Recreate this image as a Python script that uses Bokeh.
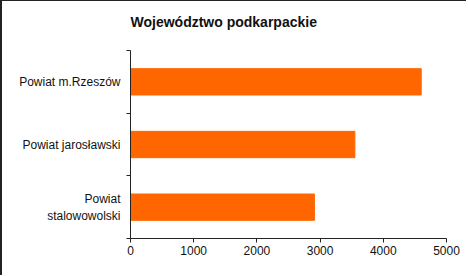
from bokeh.plotting import figure
from bokeh.models import FixedTicker, Range1d, Title
from bokeh.embed import file_html
from bokeh.resources import INLINE

title_text = "Województwo podkarpackie"
categories = ["Powiat m.Rzeszów", "Powiat jarosławski", "Powiat\nstalowowolski"]
values = [4600, 3550, 2910]
x_ticks = [0, 1000, 2000, 3000, 4000, 5000]

n = len(categories)
# top-to-bottom order: positions n-0.5, ..., 0.5
ypos = [n - i - 0.5 for i in range(n)]

p = figure(width=466, height=275, output_backend="svg", toolbar_location=None,
           x_range=Range1d(0, 5000), y_range=Range1d(0, n),
           min_border_left=128, min_border_right=22, min_border_top=49,
           min_border_bottom=38,
           styles={"border-left": "2px solid #222", "border-top": "1px solid #222"})

p.hbar(y=ypos, right=values, left=0, height=0.42, color="#FF6600")

spacer = Title(text=" ", text_font_size="1px", standoff=13)
main_title = Title(text=title_text, text_font="Liberation Sans",
                   text_font_size="14px", text_font_style="bold",
                   text_color="#111111", align="left", offset=0, standoff=10)
p.add_layout(spacer, "above")
p.add_layout(main_title, "above")

p.outline_line_color = None
p.xgrid.visible = False
p.ygrid.visible = False
p.background_fill_color = "white"
p.border_fill_color = "white"

xa = p.xaxis[0]
xa.ticker = FixedTicker(ticks=x_ticks)
xa.major_label_overrides = {t: str(t) for t in x_ticks}
xa.major_tick_out = 4
xa.major_tick_in = 0
xa.minor_tick_line_color = None
xa.axis_line_color = "#222222"
xa.major_tick_line_color = "#222222"
xa.major_label_text_font = "Liberation Sans"
xa.major_label_text_font_size = "12px"
xa.major_label_text_color = "#111111"
xa.major_label_standoff = 3

ya = p.yaxis[0]
ya.ticker = FixedTicker(ticks=ypos, minor_ticks=list(range(0, n + 1)))
ya.major_label_overrides = {y: c for y, c in zip(ypos, categories)}
ya.major_tick_line_color = None
ya.major_tick_out = 4
ya.minor_tick_out = 4
ya.minor_tick_in = 0
ya.minor_tick_line_color = "#222222"
ya.axis_line_color = "#222222"
ya.major_label_text_font = "Liberation Sans"
ya.major_label_text_font_size = "12px"
ya.major_label_text_color = "#111111"
ya.major_label_standoff = 6

open("out.html", "w").write(file_html(p, INLINE))
